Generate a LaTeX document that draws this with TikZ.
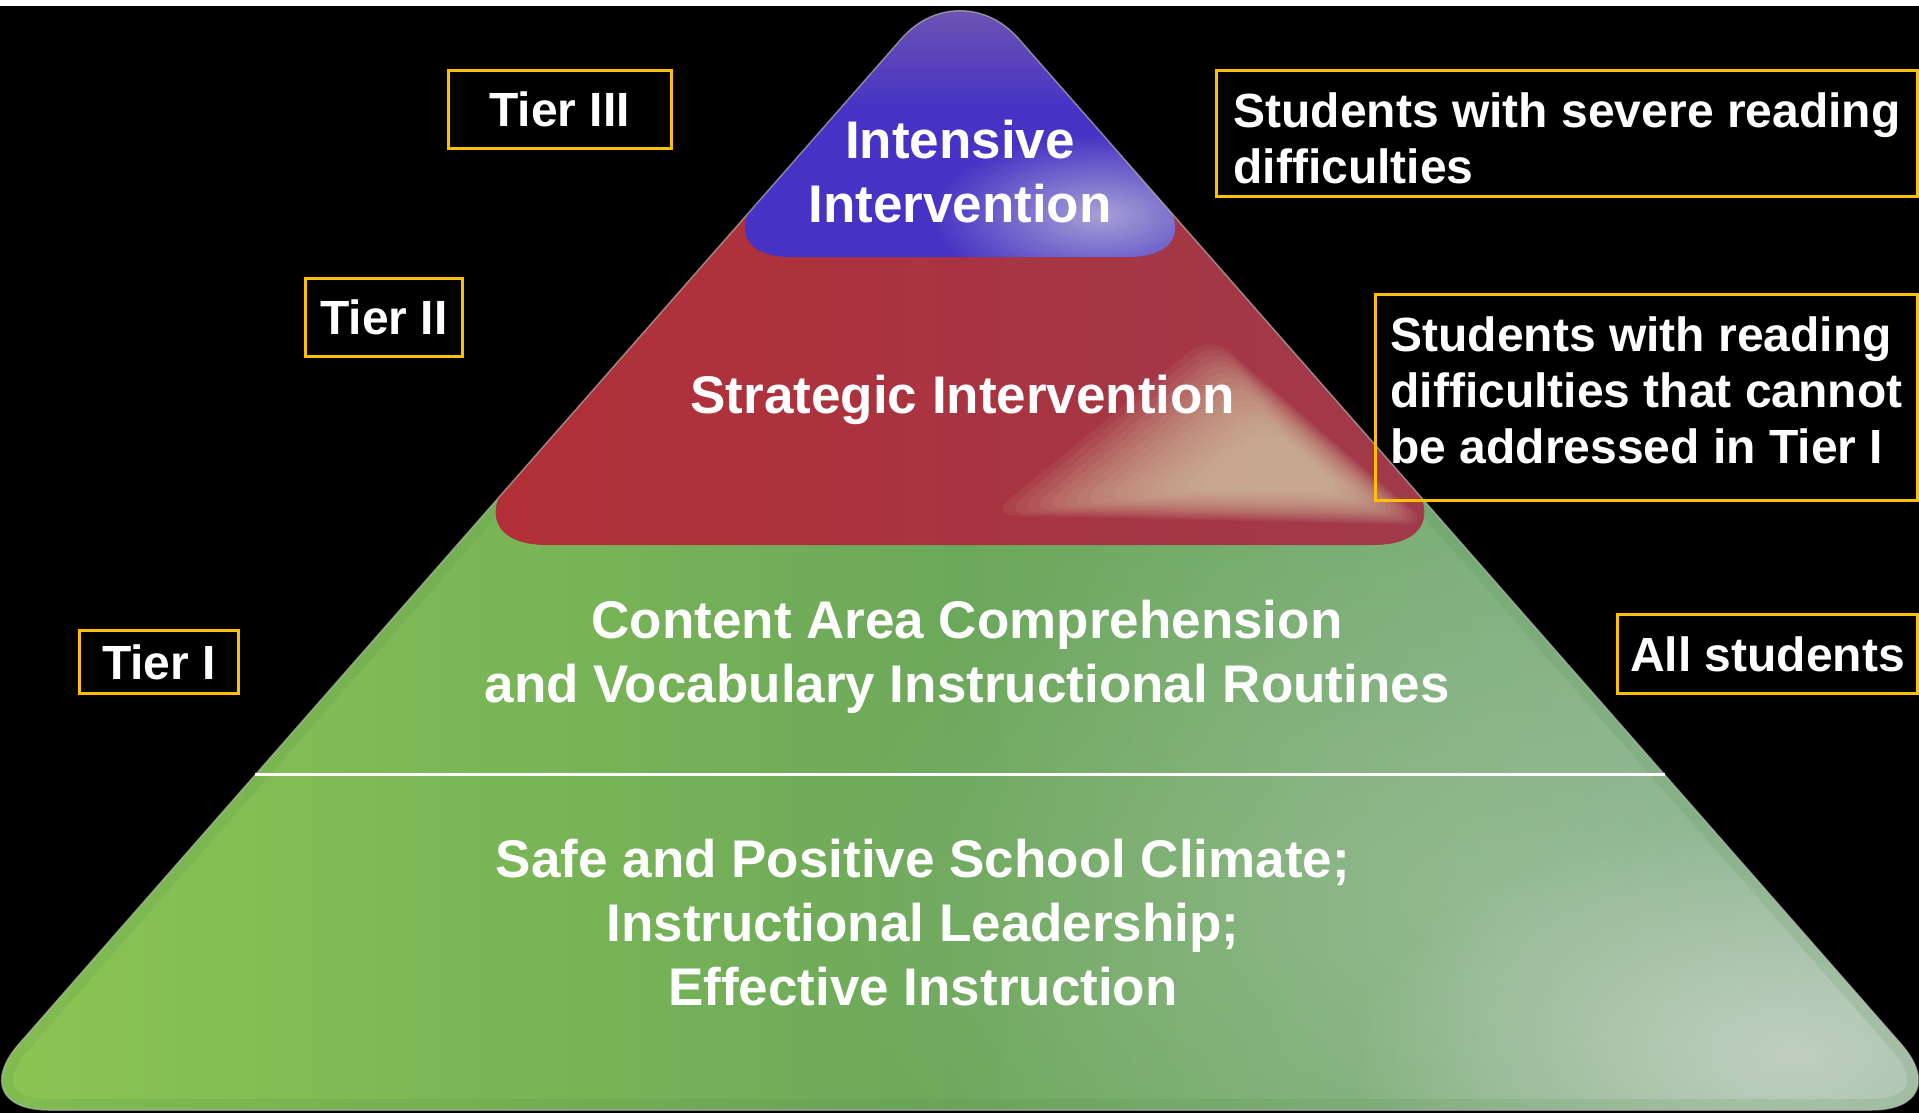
\documentclass[tikz,border=0pt]{standalone}
\usepackage{fontspec}
\setmainfont{Liberation Sans}
\usepackage[HTML]{xcolor}
\usepackage{tikz}
\usetikzlibrary{fadings}

\definecolor{tiergold}{HTML}{FFC000}
\definecolor{bluetop}{HTML}{8064AA}
\definecolor{bluemain}{HTML}{4632C4}
\definecolor{blueglow}{HTML}{C8C6DC}
\definecolor{redleft}{HTML}{B22F37}
\definecolor{redright}{HTML}{9F3A4B}
\definecolor{beige}{HTML}{D8CCA8}
\definecolor{greenleft}{HTML}{8CC652}
\definecolor{greenmid}{HTML}{6CA85A}
\definecolor{greenright}{HTML}{86B392}
\definecolor{greenglow}{HTML}{D2D7D0}
\definecolor{greenrim}{HTML}{4E8A46}
\definecolor{rimline}{HTML}{B8BCB8}

\tikzfading[name=glow, inner color=transparent!0, outer color=transparent!100]

\tikzset{
  tierbox/.style={draw=tiergold, line width=3pt, text=white, inner sep=0pt,
    font=\fontsize{48}{56}\selectfont\bfseries},
  needbox/.style={tierbox, align=left},
  bandtext/.style={text=white, align=center, font=\fontsize{53}{64}\selectfont\bfseries}
}

\begin{document}
\begin{tikzpicture}[x=1pt, y=-1pt]
% canvas
\useasboundingbox (0,0) rectangle (1919,1113);
\fill[black] (0,6) rectangle (1919,1113);

% pyramid corners
\coordinate (apex) at (960,-28);
\coordinate (baseL) at (-39,1110);
\coordinate (baseR) at (1959,1110);

\begin{scope}
\clip[rounded corners=88pt] (apex) -- (baseR) -- (baseL) -- cycle;
% tier I (green)
\shade[left color=greenleft, right color=greenright, middle color=greenmid] (-39,-28) rectangle (1959,1113);
\fill[greenglow, path fading=glow, opacity=0.3] (1500,900) ellipse [x radius=700pt, y radius=450pt];
\fill[greenglow, path fading=glow, opacity=0.75] (1790,1055) ellipse [x radius=440pt, y radius=240pt];
\draw[greenrim, opacity=0.15, line width=22pt, rounded corners=88pt] (apex) -- (baseR) -- (baseL) -- cycle;
% tier II (red)
\shade[left color=redleft, right color=redright, rounded corners=95pt] (960,-40) -- (1468,545) -- (452,545) -- cycle;
\begin{scope}
\clip[rounded corners=95pt] (960,-40) -- (1468,545) -- (452,545) -- cycle;
\foreach \s in {1.00,0.96,...,0.36}
  \fill[beige, opacity=0.085, shift={(1300,475)}, scale=\s, rounded corners=25pt] (-90,-140) -- (130,50) -- (-310,40) -- cycle;
\end{scope}
% tier III (blue)
\shade[top color=bluetop, bottom color=bluemain, middle color=bluemain, rounded corners=85pt] (960,-40) -- (1214,257) -- (706,257) -- cycle;
\begin{scope}
\clip[rounded corners=85pt] (960,-40) -- (1214,257) -- (706,257) -- cycle;
\fill[blueglow, path fading=glow, opacity=0.75] (1100,215) ellipse [x radius=170pt, y radius=80pt];
\end{scope}
\end{scope}
\draw[rimline, opacity=0.6, line width=1.5pt, rounded corners=88pt] (apex) -- (baseR) -- (baseL) -- cycle;

% line between the two green parts
\coordinate (sepL) at (255,774);
\coordinate (sepR) at (1665,774);
\draw[white, line width=3pt] (sepL) -- (sepR);

% band labels
\node[bandtext] (intensive) at (960,172) {Intensive\\Intervention};
\node[bandtext] (strategic) at (963,400) {Strategic Intervention};
\node[bandtext] (content) at (967,657) {Content Area Comprehension\\and Vocabulary Instructional Routines};
\node[bandtext] (climate) at (923,923) {Safe and Positive School Climate;\\Instructional Leadership;\\Effective Instruction};

% tier boxes
\node[tierbox, minimum width=223pt, minimum height=78pt] (tierIII) at (559.5,109.5) {Tier III};
\node[tierbox, minimum width=157pt, minimum height=78pt] (tierII) at (384,317.5) {Tier II};
\node[tierbox, minimum width=159pt, minimum height=63pt] (tierI) at (159,662) {Tier I};

% who is served
\node[needbox, minimum width=701pt, minimum height=126pt, text height=101pt] (needIII) at (1567,133.5) {Students with severe reading\\difficulties};
\node[needbox, minimum width=542pt, minimum height=206pt, text depth=14pt] (needII) at (1646.5,397.5) {Students with reading\\difficulties that cannot\\be addressed in Tier I};
\node[needbox, minimum width=300pt, minimum height=79pt] (needI) at (1767.5,654) {All students};
\end{tikzpicture}
\end{document}
